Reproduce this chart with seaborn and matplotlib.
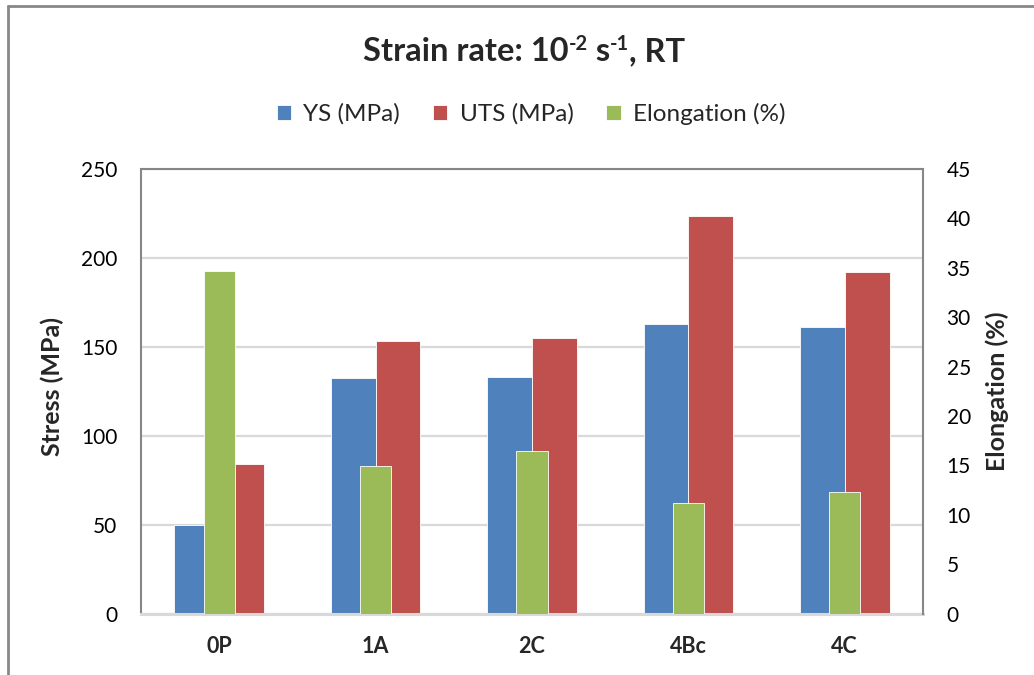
import matplotlib
matplotlib.use("Agg")
import matplotlib.pyplot as plt
from matplotlib.lines import Line2D
from matplotlib.transforms import IdentityTransform
import numpy as np
import pandas as pd
import seaborn as sns

# Tensile results per processing condition
samples = ["0P", "1A", "2C", "4Bc", "4C"]
ys_mpa = [50.0, 132.5, 132.8, 163.0, 161.0]
uts_mpa = [84.3, 153.2, 154.9, 223.6, 192.1]
elongation_pct = [34.7, 14.9, 16.5, 11.2, 12.3]

stress_ticks = [0, 50, 100, 150, 200, 250]
elong_ticks = [0, 5, 10, 15, 20, 25, 30, 35, 40, 45]

BLUE = "#4F81BD"
RED = "#C0504D"
GREEN = "#9BBB59"
AXIS_GRAY = "#868686"
GRID_GRAY = "#D9D9D9"

sns.set_style("white")
plt.rcParams["font.family"] = ["Lato", "DejaVu Sans"]

stress_df = pd.DataFrame({
    "Sample": samples * 2,
    "Stress": ys_mpa + uts_mpa,
    "Property": ["YS (MPa)"] * len(samples) + ["UTS (MPa)"] * len(samples),
})
elong_df = pd.DataFrame({"Sample": samples, "Elongation": elongation_pct})

W, H = 1034, 675
AX_L, AX_R, AX_T, AX_B = 141, 923, 169, 613.5
fig = plt.figure(figsize=(W / 100, H / 100), dpi=100)
ax = fig.add_axes([AX_L / W, 1 - AX_B / H, (AX_R - AX_L) / W, (AX_B - AX_T) / H])

sns.barplot(data=stress_df, x="Sample", y="Stress", hue="Property",
            order=samples, hue_order=["YS (MPa)", "UTS (MPa)"],
            palette=[BLUE, RED], width=0.572, dodge=True, gap=0,
            saturation=1, edgecolor="white", linewidth=0.6, ax=ax, legend=False)

ax2 = ax.twinx()
sns.barplot(data=elong_df, x="Sample", y="Elongation", order=samples,
            color=GREEN, width=0.2, edgecolor="white", linewidth=0.6,
            ax=ax2, saturation=1)

ax.set_xlim(-0.5, len(samples) - 0.5)
ax2.set_xlim(-0.5, len(samples) - 0.5)
ax.set_ylim(0, 250)
ax2.set_ylim(0, 45)
ax.set_yticks(stress_ticks)
ax2.set_yticks(elong_ticks)

ax.set_axisbelow(True)
ax.yaxis.grid(True, color=GRID_GRAY, linewidth=1.6)
ax.xaxis.grid(False)

ax.tick_params(axis="y", length=0, pad=17, labelsize=15, labelcolor="#000000")
ax2.tick_params(axis="y", length=0, pad=17, labelsize=15, labelcolor="#000000")
ax.tick_params(axis="x", length=0, pad=16, labelsize=15.5)
for lbl in ax.get_xticklabels():
    lbl.set_fontweight("bold")

ax.set_xlabel("")
ax.set_ylabel("Stress (MPa)", fontsize=18, fontweight="bold")
ax2.set_ylabel("Elongation (%)", fontsize=18, fontweight="bold", rotation=90)
ax2.yaxis.set_label_position("right")
ax.yaxis.label.set_va("center")
ax2.yaxis.label.set_va("center")
ax.yaxis.set_label_coords((52.5 - AX_L) / (AX_R - AX_L), (AX_B - 386) / (AX_B - AX_T))
ax2.yaxis.set_label_coords((997 - AX_L) / (AX_R - AX_L), (AX_B - 391) / (AX_B - AX_T))

for a in (ax, ax2):
    for s in a.spines.values():
        s.set_visible(False)
ax.spines["left"].set_visible(True)
ax.spines["left"].set_color(AXIS_GRAY)
ax.spines["left"].set_linewidth(1.5)
ax.spines["bottom"].set_visible(True)
ax.spines["bottom"].set_color(GRID_GRAY)
ax.spines["bottom"].set_linewidth(2.2)
for side in ("top", "right"):
    ax2.spines[side].set_visible(True)
    ax2.spines[side].set_color(AXIS_GRAY)
    ax2.spines[side].set_linewidth(1.5)

# Title built from runs so the exponents sit raised in a smaller size
title_runs = [("Strain rate: 10", 23.5, 0), ("-2", 14.5, 10.5), (" s", 23.5, 0),
              ("-1", 14.5, 10.5), (", RT", 23.5, 0)]
renderer = fig.canvas.get_renderer()
baseline_from_bottom = H - 61
pieces = []
x_cursor = 0.0
for txt, size, rise in title_runs:
    t = fig.text(0, 0, txt, fontsize=size, fontweight="bold", ha="left",
                 va="baseline", transform=IdentityTransform())
    w = t.get_window_extent(renderer).width
    pieces.append((t, x_cursor, rise))
    x_cursor += w
x_start = 524 - x_cursor / 2
for t, dx, rise in pieces:
    t.set_position((x_start + dx, baseline_from_bottom + rise))

handles = [ax.containers[0].patches[0], ax.containers[1].patches[0],
           ax2.containers[0].patches[0]]
labels = ["YS (MPa)", "UTS (MPa)", "Elongation (%)"]
fig.legend(handles, labels, loc="center", bbox_to_anchor=(531 / W, 1 - 114 / H),
           ncol=3, frameon=False, fontsize=17.5, handlelength=0.6,
           handleheight=0.6, handletextpad=0.5, columnspacing=1.35)

# Chart-area frame
fig.add_artist(Line2D([7.5 / W, 7.5 / W], [0, 1 - 5.5 / H],
                      color="#888888", linewidth=2, transform=fig.transFigure))
fig.add_artist(Line2D([7.5 / W, 1], [1 - 5.5 / H, 1 - 5.5 / H],
                      color="#888888", linewidth=2, transform=fig.transFigure))

fig.savefig("out.png", dpi=100)
